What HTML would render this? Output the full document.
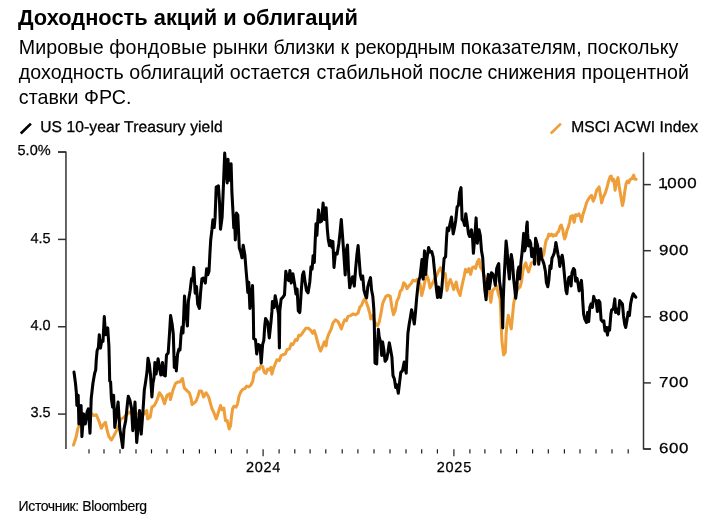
<!DOCTYPE html><html lang="ru"><head><meta charset="utf-8"><title>Доходность акций и облигаций</title><style>

html,body{margin:0;padding:0;background:#fff;}
body{width:713px;height:522px;position:relative;overflow:hidden;font-family:"Liberation Sans",sans-serif;color:#000;}
.t{position:absolute;white-space:nowrap;line-height:1;}
.title{left:18px;top:6.1px;font-size:21.85px;font-weight:700;line-height:24px;}
.sub{left:18.8px;font-size:19.65px;line-height:24px;}
.leg{font-size:15.6px;line-height:20px;-webkit-text-stroke:0.3px #000;letter-spacing:0.09px;text-rendering:geometricPrecision;}
.ax{font-size:14.5px;line-height:18px;-webkit-text-stroke:0.25px #000;text-rendering:geometricPrecision;}
.axl{text-align:right;width:60px;left:-9.4px;}
.axx{letter-spacing:0.75px;}
.axr{letter-spacing:0.5px;transform:scaleX(1.165);transform-origin:0 50%;}
.src{left:18.6px;top:497.0px;font-size:14px;line-height:18px;letter-spacing:-0.38px;-webkit-text-stroke:0.15px #000;}

</style></head><body>
<svg width="713" height="522" viewBox="0 0 713 522" style="position:absolute;left:0;top:0">
<g stroke="#333" stroke-width="1.5" fill="none" stroke-linejoin="round">
<path d="M58,152.05 H65.95 V448.9"/>
<path d="M643.5,152.3 V449 H650.9"/>
<path d="M58,152.05 H65.95"/>
<path d="M58,239.4 H65.95"/>
<path d="M58,326.75 H65.95"/>
<path d="M58,414.1 H65.95"/>
<path d="M643.5,184.6 H650.9"/>
<path d="M643.5,250.7 H650.9"/>
<path d="M643.5,316.8 H650.9"/>
<path d="M643.5,382.9 H650.9"/>
<path d="M643.5,449.0 H650.9"/>
<path d="M89,449.3 V453.4" stroke-width="1.15" stroke="#151515"/>
<path d="M104,449.3 V453.4" stroke-width="1.15" stroke="#151515"/>
<path d="M120,449.3 V453.4" stroke-width="1.15" stroke="#151515"/>
<path d="M136,449.3 V453.4" stroke-width="1.15" stroke="#151515"/>
<path d="M151.5,449.3 V453.4" stroke-width="1.15" stroke="#151515"/>
<path d="M167,449.3 V453.4" stroke-width="1.15" stroke="#151515"/>
<path d="M183.4,449.3 V453.4" stroke-width="1.15" stroke="#151515"/>
<path d="M199.4,449.3 V453.4" stroke-width="1.15" stroke="#151515"/>
<path d="M215.4,449.3 V453.4" stroke-width="1.15" stroke="#151515"/>
<path d="M231.4,449.3 V453.4" stroke-width="1.15" stroke="#151515"/>
<path d="M247.1,449.3 V453.4" stroke-width="1.15" stroke="#151515"/>
<path d="M279.1,449.3 V453.4" stroke-width="1.15" stroke="#151515"/>
<path d="M294.8,449.3 V453.4" stroke-width="1.15" stroke="#151515"/>
<path d="M310.1,449.3 V453.4" stroke-width="1.15" stroke="#151515"/>
<path d="M325.8,449.3 V453.4" stroke-width="1.15" stroke="#151515"/>
<path d="M342.2,449.3 V453.4" stroke-width="1.15" stroke="#151515"/>
<path d="M357.9,449.3 V453.4" stroke-width="1.15" stroke="#151515"/>
<path d="M374,449.3 V453.4" stroke-width="1.15" stroke="#151515"/>
<path d="M390,449.3 V453.4" stroke-width="1.15" stroke="#151515"/>
<path d="M406,449.3 V453.4" stroke-width="1.15" stroke="#151515"/>
<path d="M421.7,449.3 V453.4" stroke-width="1.15" stroke="#151515"/>
<path d="M437.4,449.3 V453.4" stroke-width="1.15" stroke="#151515"/>
<path d="M469.9,449.3 V453.4" stroke-width="1.15" stroke="#151515"/>
<path d="M484.9,449.3 V453.4" stroke-width="1.15" stroke="#151515"/>
<path d="M500.9,449.3 V453.4" stroke-width="1.15" stroke="#151515"/>
<path d="M516.6,449.3 V453.4" stroke-width="1.15" stroke="#151515"/>
<path d="M532.6,449.3 V453.4" stroke-width="1.15" stroke="#151515"/>
<path d="M548.3,449.3 V453.4" stroke-width="1.15" stroke="#151515"/>
<path d="M564.4,449.3 V453.4" stroke-width="1.15" stroke="#151515"/>
<path d="M580,449.3 V453.4" stroke-width="1.15" stroke="#151515"/>
<path d="M596,449.3 V453.4" stroke-width="1.15" stroke="#151515"/>
<path d="M612,449.3 V453.4" stroke-width="1.15" stroke="#151515"/>
<path d="M628.2,449.3 V453.4" stroke-width="1.15" stroke="#151515"/>
<path d="M263.1,449.3 V456.3" stroke-width="1.15" stroke="#151515"/>
<path d="M453.9,449.3 V456.3" stroke-width="1.15" stroke="#151515"/>
</g>
<path d="M73.5,445.1 L76.0,437.5 L77.7,429.0 L79.4,424.8 L81.9,421.5 L85.3,418.9 L88.7,415.6 L92.0,413.9 L93.7,415.6 L96.2,414.7 L98.8,420.6 L101.3,428.2 L103.8,424.0 L105.5,422.3 L107.2,430.7 L108.9,436.6 L111.4,440.0 L113.9,435.8 L115.6,432.4 L118.1,427.4 L120.7,418.9 L123.2,418.1 L125.7,415.6 L129.1,412.2 L132.5,413.9 L135.8,413.0 L140.1,414.7 L144.3,413.9 L146.8,410.5 L147.6,418.9 L150.2,417.3 L151.9,407.1 L154.4,405.5 L156.9,400.4 L159.4,392.8 L162.0,396.2 L164.5,403.8 L167.0,395.3 L169.6,393.7 L170.4,399.6 L172.9,390.3 L175.5,383.5 L178.0,381.9 L180.0,381.9 L182.5,378.5 L184.2,387.8 L186.7,390.3 L189.3,392.8 L191.0,397.9 L192.1,404.6 L194.3,402.9 L196.0,401.2 L197.7,397.0 L199.4,391.1 L201.6,391.1 L203.6,397.0 L206.1,392.8 L208.7,397.0 L210.3,402.9 L212.0,408.8 L213.7,412.2 L216.2,418.9 L217.9,413.9 L220.5,405.5 L222.1,409.7 L223.8,408.0 L225.5,420.6 L227.2,420.6 L229.2,429.0 L230.6,425.7 L231.4,417.3 L232.6,408.8 L233.9,406.3 L236.0,407.1 L237.6,403.8 L239.0,396.2 L240.7,392.0 L242.7,389.4 L244.9,388.6 L246.6,386.1 L248.8,386.9 L250.8,385.2 L252.8,381.0 L254.2,372.6 L255.8,371.7 L257.5,368.4 L259.2,369.2 L260.9,365.8 L262.6,366.5 L264.3,372.4 L266.0,373.3 L267.6,369.0 L269.3,369.9 L271.0,367.4 L271.9,374.1 L273.5,368.2 L275.2,364.0 L276.9,359.8 L279.4,360.6 L281.1,355.6 L283.2,354.7 L285.3,353.9 L287.0,349.7 L289.6,348.8 L291.2,343.8 L292.9,344.6 L295.5,339.6 L297.1,340.4 L298.8,335.3 L300.0,335.8 L301.7,334.1 L303.4,331.6 L305.9,328.2 L308.4,328.2 L311.0,330.7 L312.6,333.3 L314.3,330.7 L316.0,335.8 L317.7,342.5 L319.4,348.4 L320.6,351.0 L322.8,345.9 L324.4,341.7 L326.1,345.9 L327.0,339.2 L328.7,334.1 L331.2,329.0 L332.9,323.1 L335.4,319.8 L337.9,321.5 L339.6,324.8 L341.3,329.0 L343.0,324.0 L344.7,319.8 L346.4,320.6 L348.0,316.4 L350.6,315.6 L353.1,313.9 L355.6,314.7 L358.1,313.0 L359.8,307.1 L361.5,305.5 L363.2,301.2 L364.9,298.7 L366.6,302.9 L368.3,308.0 L369.9,313.9 L370.8,318.9 L372.5,315.6 L374.2,320.6 L375.8,324.0 L377.5,325.7 L379.2,322.3 L380.9,313.9 L382.6,303.8 L384.3,299.6 L386.0,296.2 L388.5,295.3 L390.2,296.2 L391.9,307.1 L393.5,314.7 L395.2,310.5 L396.9,301.2 L398.6,297.9 L400.3,291.1 L402.0,289.4 L403.7,282.7 L405.3,284.4 L407.0,288.6 L408.7,286.1 L411.2,283.5 L412.9,280.2 L415.5,281.0 L417.1,279.3 L418.8,286.9 L420.0,283.7 L421.7,295.5 L423.4,288.8 L425.1,280.3 L426.7,275.3 L428.4,279.5 L430.1,287.9 L431.8,284.6 L433.5,281.2 L435.2,277.8 L436.9,275.3 L438.5,271.1 L440.6,267.7 L441.9,271.1 L443.6,277.0 L445.3,273.6 L447.0,290.5 L448.7,283.7 L450.3,279.5 L452.0,283.7 L453.7,289.6 L455.4,284.6 L456.2,282.0 L457.9,290.5 L460.1,295.5 L461.3,288.8 L463.0,281.2 L464.2,276.1 L465.5,269.4 L467.2,271.9 L468.9,268.5 L470.6,274.4 L472.3,267.7 L473.9,266.9 L475.6,268.5 L477.3,261.8 L479.0,259.3 L480.3,266.9 L482.4,270.2 L484.0,275.3 L485.7,278.7 L487.4,283.7 L489.1,290.5 L490.8,302.3 L492.5,290.5 L494.2,288.8 L496.7,286.2 L498.4,293.8 L500.1,298.9 L500.9,314.0 L501.1,323.7 L501.9,340.6 L503.6,354.9 L505.3,352.4 L506.1,333.8 L507.0,323.7 L508.3,315.3 L509.5,321.2 L511.2,328.8 L512.4,317.0 L513.7,303.5 L515.4,295.1 L517.1,290.0 L518.8,288.1 L520.2,286.7 L521.6,281.1 L523.0,269.9 L524.4,265.7 L525.8,262.9 L527.2,268.5 L528.6,272.0 L530.0,267.1 L531.4,262.9 L533.5,262.2 L535.0,262.0 L537.0,259.0 L539.0,261.0 L541.0,258.0 L542.6,257.3 L544.0,253.1 L545.0,246.0 L546.1,240.4 L547.5,238.3 L548.9,234.1 L550.3,235.5 L551.7,234.1 L553.1,236.2 L554.5,234.8 L555.9,235.5 L557.3,232.7 L558.7,231.3 L560.1,226.4 L561.2,225.0 L562.7,229.2 L563.6,234.8 L564.6,239.0 L565.7,236.2 L566.9,230.6 L568.3,227.1 L569.6,222.3 L570.8,216.4 L572.5,215.6 L574.2,222.3 L575.5,214.7 L577.2,215.6 L578.9,213.9 L580.6,217.3 L581.4,221.5 L583.1,213.9 L584.8,208.8 L586.5,202.9 L588.1,199.6 L589.8,197.0 L591.5,195.3 L593.2,201.2 L594.9,197.0 L596.6,190.3 L599.1,186.9 L600.5,195.3 L601.6,202.9 L603.3,197.0 L605.0,193.7 L606.7,188.6 L608.4,181.9 L610.1,176.8 L611.2,176.0 L612.6,181.0 L613.8,179.3 L615.1,190.3 L616.3,183.5 L618.0,177.6 L619.3,186.9 L620.7,195.3 L622.4,205.5 L623.5,201.2 L624.7,192.0 L626.1,183.5 L627.4,181.0 L628.6,182.7 L630.3,179.3 L632.0,178.5 L633.7,175.1 L634.8,179.3 L636.2,179.3" fill="none" stroke="#ef9f3a" stroke-width="3.05" stroke-linejoin="round" stroke-linecap="round"/>
<path d="M74.0,372.1 L75.5,383.5 L76.3,392.0 L76.9,405.5 L78.2,395.3 L78.9,424.0 L81.1,405.5 L81.9,436.6 L83.6,413.9 L85.3,424.0 L87.0,412.2 L88.3,408.8 L90.0,433.3 L91.2,398.7 L92.9,383.5 L94.6,373.4 L95.7,370.1 L96.2,360.8 L97.1,350.7 L98.4,347.3 L99.3,334.7 L100.5,348.1 L101.8,340.6 L103.0,341.4 L104.3,316.6 L105.5,334.7 L107.7,327.9 L108.9,345.6 L109.4,365.8 L109.7,381.0 L110.6,381.9 L111.4,398.7 L112.6,407.1 L113.6,395.3 L114.8,427.4 L116.5,413.9 L118.1,402.1 L119.8,429.0 L121.5,439.2 L122.7,447.6 L124.0,429.0 L125.7,420.6 L127.4,403.8 L128.3,396.2 L129.9,400.4 L131.6,408.8 L132.8,430.7 L135.0,402.1 L136.7,442.5 L138.4,424.0 L139.6,410.5 L141.2,434.1 L142.9,412.2 L144.3,390.3 L145.6,381.9 L147.0,372.0 L148.0,358.3 L149.3,364.0 L150.5,375.0 L151.9,397.0 L153.0,383.0 L154.0,378.0 L154.9,362.5 L156.1,374.0 L158.1,358.8 L159.4,367.5 L160.8,375.0 L162.5,362.5 L163.7,375.0 L165.3,376.0 L166.5,355.0 L168.2,353.0 L169.6,332.0 L170.6,315.6 L172.1,324.0 L173.3,334.0 L174.3,367.5 L175.5,357.4 L176.3,371.0 L177.6,354.0 L179.0,349.0 L180.0,350.0 L181.0,335.0 L182.0,327.0 L183.0,333.0 L184.5,296.0 L185.9,314.0 L187.4,326.0 L188.4,301.0 L190.1,290.7 L191.5,278.9 L192.6,280.6 L193.8,267.4 L195.2,293.2 L196.5,286.5 L197.7,304.2 L199.4,308.4 L200.6,292.4 L201.9,278.9 L203.3,278.0 L204.4,280.6 L205.3,283.1 L206.6,268.8 L207.8,274.7 L209.0,271.3 L210.0,251.9 L210.7,240.1 L212.0,229.2 L212.9,219.9 L214.2,227.5 L215.1,217.4 L216.2,187.1 L218.4,185.9 L219.6,203.9 L220.5,229.2 L222.1,217.4 L223.5,183.7 L224.7,153.0 L225.8,170.2 L227.2,182.9 L228.0,159.3 L229.2,180.3 L231.1,163.8 L231.9,192.1 L233.1,214.0 L233.8,228.0 L234.5,215.0 L235.3,240.0 L236.5,213.0 L237.8,215.0 L238.7,234.0 L239.3,248.0 L240.7,251.9 L242.0,257.8 L243.2,245.2 L244.9,255.3 L246.1,270.5 L247.1,282.3 L247.8,292.4 L248.8,282.3 L249.9,308.4 L251.1,297.4 L252.5,285.6 L253.3,310.9 L253.7,338.7 L255.5,339.6 L256.7,353.9 L258.4,344.6 L260.1,345.5 L261.2,363.1 L262.6,344.6 L263.8,340.4 L264.8,325.2 L265.6,318.5 L267.6,321.9 L269.3,337.9 L271.0,321.9 L271.9,311.7 L272.4,301.6 L274.1,307.5 L275.2,295.7 L276.9,304.2 L278.6,314.3 L279.4,348.0 L279.8,310.9 L281.1,299.1 L282.8,297.4 L284.5,294.9 L285.8,271.3 L287.5,278.9 L288.7,280.6 L289.9,270.5 L291.2,283.1 L292.9,273.8 L294.6,283.9 L296.0,294.0 L297.1,289.0 L298.3,310.9 L299.7,312.6 L300.0,310.5 L301.3,290.3 L302.5,275.1 L303.7,271.7 L305.1,281.9 L306.4,290.3 L308.1,292.8 L309.8,281.9 L311.0,266.7 L312.1,269.2 L313.1,255.7 L314.3,262.5 L315.2,240.6 L316.0,223.7 L316.9,235.5 L317.7,222.0 L318.5,209.9 L319.9,222.0 L321.6,221.2 L323.1,203.1 L324.4,219.5 L326.1,207.7 L327.3,228.8 L328.3,239.7 L329.5,245.6 L330.3,240.6 L332.0,247.3 L332.9,241.4 L334.0,267.5 L335.4,253.2 L337.1,254.0 L338.8,243.9 L340.1,232.1 L341.3,219.5 L342.5,235.5 L343.8,254.0 L345.2,275.0 L346.4,250.0 L347.5,245.0 L348.6,272.0 L349.7,287.8 L351.4,280.2 L352.6,276.8 L354.3,286.1 L355.6,269.2 L357.0,254.0 L358.1,245.6 L359.3,260.8 L360.3,274.3 L361.5,279.3 L362.7,276.0 L364.0,290.3 L365.4,295.3 L366.6,297.9 L367.8,286.9 L369.1,281.9 L370.5,277.6 L371.6,290.3 L372.8,296.2 L373.8,308.8 L374.3,324.0 L375.0,363.0 L376.7,363.8 L377.5,343.6 L378.4,329.3 L379.2,336.9 L380.6,341.9 L381.7,355.4 L382.6,341.9 L383.9,350.3 L385.1,361.3 L386.8,358.8 L388.0,352.0 L389.3,342.8 L390.7,350.3 L391.9,357.1 L393.0,375.6 L394.4,379.0 L395.7,387.4 L396.9,384.9 L398.3,393.3 L399.4,384.0 L400.8,372.3 L402.5,370.6 L404.2,362.1 L405.3,368.9 L406.2,373.1 L407.0,353.7 L407.9,333.5 L409.2,324.0 L410.4,317.3 L411.6,309.7 L412.9,315.6 L414.3,324.0 L415.5,312.2 L416.6,298.7 L418.0,285.2 L419.3,278.5 L419.9,277.9 L422.0,259.5 L423.2,279.1 L424.5,250.9 L425.7,274.5 L426.8,259.5 L428.6,247.5 L430.1,252.1 L431.7,251.5 L433.2,257.2 L434.3,268.7 L435.5,280.2 L436.6,290.6 L437.5,297.5 L438.6,287.1 L439.5,294.0 L440.6,297.5 L441.8,288.3 L442.9,274.5 L444.1,258.4 L445.6,256.7 L446.6,237.3 L447.3,228.0 L448.7,230.6 L450.0,223.8 L451.5,217.1 L453.2,233.9 L454.6,227.2 L455.7,220.5 L457.1,207.0 L458.4,205.3 L459.6,192.6 L461.0,187.6 L462.1,219.6 L463.5,221.3 L464.7,225.5 L465.8,213.7 L467.2,223.8 L468.5,233.9 L469.7,236.5 L471.4,229.7 L472.6,239.0 L473.4,253.3 L474.8,237.3 L476.1,217.9 L477.3,243.2 L479.0,229.7 L480.3,235.6 L481.5,250.8 L482.7,257.5 L483.7,275.3 L484.9,290.5 L486.1,299.7 L487.1,283.7 L488.3,274.4 L489.4,288.8 L490.7,279.7 L491.4,272.7 L492.8,274.1 L494.2,278.3 L495.3,285.3 L496.7,268.5 L497.7,265.7 L498.7,263.6 L499.5,281.1 L500.5,288.1 L501.9,298.2 L502.7,328.0 L503.3,298.2 L504.0,281.1 L505.1,260.1 L506.1,241.1 L507.1,250.2 L508.2,267.1 L509.4,279.0 L510.3,262.9 L511.3,254.5 L512.4,261.5 L513.6,278.3 L514.5,286.7 L515.7,298.2 L516.6,290.9 L517.8,271.3 L518.8,267.1 L519.7,279.0 L520.9,262.9 L522.0,253.1 L523.0,241.8 L523.7,233.4 L524.6,250.9 L525.8,246.0 L526.6,226.4 L527.2,222.0 L527.6,233.4 L528.6,246.0 L529.6,240.4 L530.7,243.2 L531.7,256.6 L532.8,248.8 L533.8,252.3 L534.6,264.3 L535.6,238.3 L536.6,241.8 L537.7,246.0 L538.7,264.3 L539.8,253.1 L540.8,248.8 L541.6,258.7 L542.6,260.1 L544.0,264.3 L545.4,271.3 L546.4,282.5 L547.8,286.7 L548.9,279.7 L550.0,265.7 L551.0,268.5 L552.0,258.0 L553.1,255.9 L554.2,253.1 L555.2,247.4 L555.9,242.5 L557.0,248.8 L558.0,254.5 L559.0,258.7 L559.8,266.4 L560.8,260.1 L562.2,255.2 L563.2,261.5 L564.1,271.3 L565.0,281.1 L566.0,290.9 L566.9,293.7 L567.8,283.9 L568.8,277.6 L569.9,276.9 L571.1,286.0 L572.0,272.7 L573.5,268.5 L574.6,269.9 L575.6,281.1 L577.0,278.3 L578.1,283.9 L579.1,290.9 L580.0,286.7 L581.4,280.4 L582.3,290.9 L582.6,298.9 L583.6,314.0 L584.8,319.1 L586.5,322.5 L587.6,312.4 L588.7,321.6 L589.8,307.3 L591.0,303.9 L592.4,307.3 L593.7,296.4 L594.9,300.6 L596.1,300.6 L597.4,311.5 L598.8,300.6 L599.9,302.3 L601.1,319.9 L602.5,321.6 L603.8,320.8 L605.0,330.9 L606.2,327.5 L607.5,335.1 L608.4,327.5 L609.6,330.1 L610.9,314.0 L611.7,309.8 L613.4,309.0 L614.8,298.9 L615.6,312.4 L616.8,309.0 L618.5,314.0 L619.7,300.6 L621.0,302.3 L622.4,303.9 L623.5,315.7 L624.7,324.2 L625.7,327.5 L626.9,320.8 L628.1,312.4 L629.4,315.7 L630.6,303.9 L632.0,297.2 L633.2,293.8 L634.5,295.5 L635.8,297.2" fill="none" stroke="#000" stroke-width="3.05" stroke-linejoin="round" stroke-linecap="round"/>
<path d="M20.8,133.5 L30.9,123.6" stroke="#000" stroke-width="2.6" stroke-linecap="butt" fill="none"/>
<path d="M550.8,133.5 L560.9,123.6" stroke="#ef9f3a" stroke-width="2.6" stroke-linecap="butt" fill="none"/>
</svg>
<div class="t title" id="title">Доходность акций и облигаций</div>
<div class="t sub" id="sub0" style="top:34.5px;letter-spacing:0.027px">Мировые <span style="letter-spacing:0.25px">фондовые</span> рынки близки <span style="letter-spacing:0.2px">к </span><span style="letter-spacing:-0.2px">рекордным </span>показателям, поскольку</div>
<div class="t sub" id="sub1" style="top:60.0px;letter-spacing:0.05px">доходность облигаций остается <span style="position:relative;left:0.9px">стабильной после</span> снижения процентной</div>
<div class="t sub" id="sub2" style="top:85.4px;letter-spacing:0.03px">ставки ФРС.</div>
<div class="t leg" id="leg1" style="left:40.2px;top:118.1px">US 10-year Treasury yield</div>
<div class="t leg" id="leg2" style="left:571.2px;top:118.1px">MSCI ACWI Index</div>
<div class="t ax axl" style="top:142.2px">5.0%</div>
<div class="t ax axl" style="top:229.5px">4.5</div>
<div class="t ax axl" style="top:316.9px">4.0</div>
<div class="t ax axl" style="top:404.2px">3.5</div>
<div class="t ax axr" style="left:657.9px;top:175.4px"><span style="letter-spacing:-3.1px">1</span><span style="letter-spacing:-1.1px">,</span>000</div>
<div class="t ax axr" style="left:658.5px;top:241.5px">900</div>
<div class="t ax axr" style="left:658.5px;top:307.6px">800</div>
<div class="t ax axr" style="left:658.5px;top:373.7px">700</div>
<div class="t ax axr" style="left:658.5px;top:439.8px">600</div>
<div class="t ax axx" style="left:245.9px;top:458.7px">2024</div>
<div class="t ax axx" style="left:436.7px;top:458.7px">2025</div>
<div class="t src" id="src">Источник: Bloomberg</div>
</body></html>
